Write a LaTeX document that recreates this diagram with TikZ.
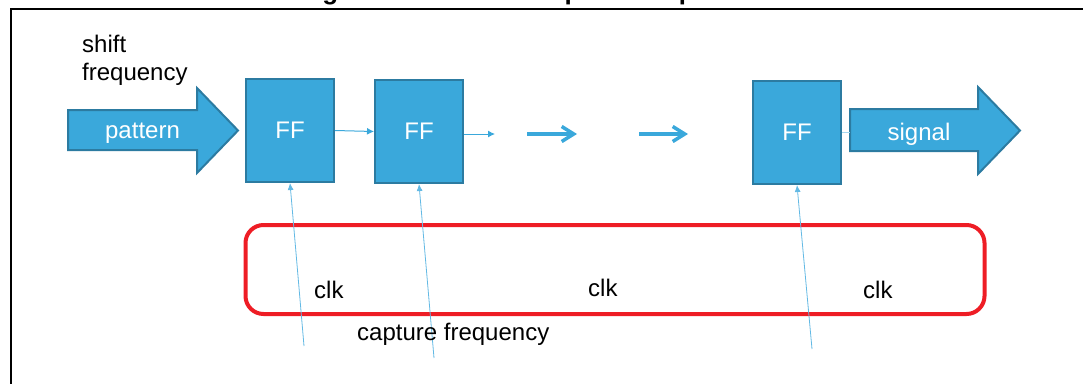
\documentclass[tikz,border=0pt]{standalone}
\usepackage{fontspec}
\setmainfont{Liberation Sans}
\usetikzlibrary{arrows.meta}
\definecolor{ffblue}{HTML}{3AA8DB}
\definecolor{ffborder}{HTML}{2C7BA1}
\definecolor{clkblue}{HTML}{62B9E4}
\definecolor{boxred}{HTML}{EE1D25}
\begin{document}
\begin{tikzpicture}[x=1pt,y=-1pt,
  lbl/.style={font=\fontsize{24}{28}\selectfont, inner sep=0pt},
  wlbl/.style={lbl, text=white},
  ffbox/.style={draw=ffborder, fill=ffblue, line width=2pt, minimum width=88pt, minimum height=103pt, inner sep=0pt, font=\fontsize{24}{28}\selectfont, text=white},
  bigarrow/.style={draw=ffborder, fill=ffblue, line width=2pt, line join=miter},
  thinarrow/.style={draw=ffblue, line width=1pt, -{Latex[length=7pt,width=7pt]}},
  chevron/.style={draw=ffblue, line width=3.5pt, -{Straight Barb[length=12pt,width=15pt]}},
  clkline/.style={draw=clkblue, line width=0.8pt, -{Latex[length=7pt,width=6pt]}},
  capbox/.style={draw=boxred, line width=4pt, rounded corners=18pt, minimum width=739pt, minimum height=89pt, inner sep=0pt},
  frame/.style={draw=black, line width=2.5pt}
]
\useasboundingbox (0,0) rectangle (1083,383);
\begin{scope}
\clip (0,0) rectangle (1083,383);
% cut-off title
\node[inner sep=0pt, font=\bfseries\fontsize{26}{30}\selectfont, anchor=base] (title) at (541,-1) {Figure 3. Shift and capture frequencies};
% frame
\draw[frame] (11,400) -- (11,9) -- (1100,9);
% red capture box
\node[capbox] (cap) at (615,269.5) {};
% big arrows
\path[bigarrow] (68,110) -- (197,110) -- (197,88) -- (238,130.5) -- (197,173) -- (197,150) -- (68,150) -- cycle;
\node[wlbl, anchor=base] (pattern) at (142.5,138) {pattern};
\path[bigarrow] (850,109) -- (978,109) -- (978,87) -- (1020,130.5) -- (978,174) -- (978,151) -- (850,151) -- cycle;
\node[wlbl, anchor=base] (signal) at (919,140) {signal};
\coordinate (sigtail) at (850,132);
% flip-flops
\node[ffbox] (ff1) at (290,130.5) {FF};
\node[ffbox] (ff2) at (419,131.5) {FF};
\node[ffbox] (ff3) at (797,132.5) {FF};
% data arrows
\draw[thinarrow] (ff1.east) -- (ff2.west);
\coordinate (o2) at (495,134);
\draw[thinarrow] (ff2.east |- o2) -- (o2);
\coordinate (d1s) at (527,134);
\coordinate (d1e) at (577,134);
\coordinate (d2s) at (639,134);
\coordinate (d2e) at (688,134);
\draw[chevron] (d1s) -- (d1e);
\draw[chevron] (d2s) -- (d2e);
\draw[draw=ffblue!45, line width=0.8pt] (ff3.east |- sigtail) -- (sigtail);
% clocks
\coordinate (c1) at (304,346);
\coordinate (c2) at (434,358);
\coordinate (c3) at (812,349);
\draw[clkline] (c1) -- (ff1.south);
\draw[clkline] (c2) -- (ff2.south);
\draw[clkline] (c3) -- (ff3.south);
% labels
\node[lbl, anchor=base west, align=left] (shift) at (82,80) {shift\\frequency};
\node[lbl, anchor=base west] (clk1) at (314,298) {clk};
\node[lbl, anchor=base west] (clk2) at (588,296) {clk};
\node[lbl, anchor=base west] (clk3) at (863,298) {clk};
\node[lbl, anchor=base west] (capf) at (357,340) {capture frequency};
\end{scope}
\end{tikzpicture}
\end{document}
